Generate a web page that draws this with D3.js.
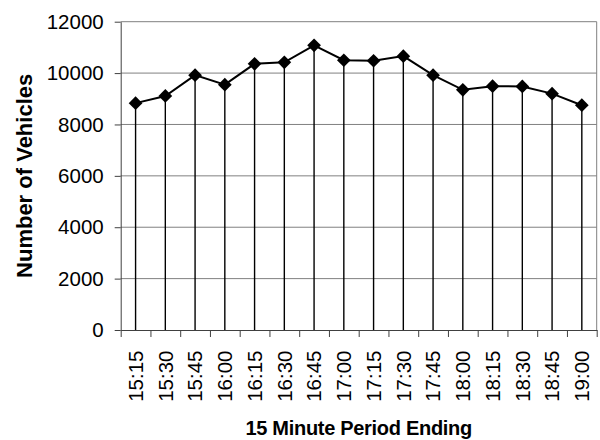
<!DOCTYPE html>
<html>
<head>
<meta charset="utf-8">
<script src="https://cdn.jsdelivr.net/npm/d3@7"></script>
<style>
  body { margin: 0; background: #fff; }
  svg { display: block; font-family: "Liberation Sans", Arial, sans-serif; }
</style>
</head>
<body>
<svg id="chart"></svg>
<script>
// 15 minute periods and counts
const periods = ['15:15', '15:30', '15:45', '16:00', '16:15', '16:30', '16:45', '17:00',
  '17:15', '17:30', '17:45', '18:00', '18:15', '18:30', '18:45', '19:00']
const vehicles = [8830, 9110, 9920, 9550, 10360, 10420, 11080, 10500,
  10480, 10660, 9920, 9350, 9490, 9480, 9200, 8750]
const yTicks = [0, 2000, 4000, 6000, 8000, 10000, 12000]

const WIDTH = 600
const HEIGHT = 440
const margin = {top: 21.7, right: 3.3, bottom: 110, left: 120.7}

const svg = d3.select('#chart')
  .attr('width', WIDTH)
  .attr('height', HEIGHT)

const x = d3.scaleBand()
  .domain(periods)
  .range([margin.left, WIDTH - margin.right])
  .padding(0)
const y = d3.scaleLinear()
  .domain([0, 12000])
  .range([HEIGHT - margin.bottom, margin.top])

// boundaries between periods, used for the x tick marks
const edges = d3.scaleLinear()
  .domain([0, periods.length])
  .range(x.range())

const data = periods.map((p, i) => ({period: p, count: vehicles[i]}))
const cx = d => x(d.period) + x.bandwidth() / 2

// gridlines
svg.append('g')
  .selectAll('line')
  .data(yTicks.filter(t => t > 0))
  .enter()
  .append('line')
  .attr('x1', x.range()[0])
  .attr('x2', x.range()[1])
  .attr('y1', d => y(d))
  .attr('y2', d => y(d))
  .attr('stroke', '#808080')
  .attr('stroke-width', 1)

// right frame
svg.append('line')
  .attr('x1', x.range()[1]).attr('x2', x.range()[1])
  .attr('y1', y(12000)).attr('y2', y(0))
  .attr('stroke', '#808080')

// drop lines
svg.append('g')
  .selectAll('line')
  .data(data)
  .enter()
  .append('line')
  .attr('x1', cx).attr('x2', cx)
  .attr('y1', d => y(d.count))
  .attr('y2', y(0))
  .attr('stroke', '#000')
  .attr('stroke-width', 1.4)

// y axis
const yAxis = svg.append('g')
  .attr('transform', `translate(${margin.left},0)`)
  .call(d3.axisLeft(y).tickValues(yTicks).tickFormat(d3.format('d'))
    .tickSize(6).tickSizeOuter(0).tickPadding(11))
yAxis.select('.domain').attr('stroke', '#404040')
yAxis.selectAll('.tick line').attr('stroke', '#404040')
yAxis.selectAll('text')
  .attr('font-size', 20.5)
  .attr('font-family', '"Liberation Sans", Arial, sans-serif')
  .attr('fill', '#000')

// x axis: tick marks at period boundaries
const xAxis = svg.append('g')
  .attr('transform', `translate(0,${y(0)})`)
  .call(d3.axisBottom(edges).ticks(periods.length).tickFormat('').tickSize(7).tickSizeOuter(0))
xAxis.select('.domain').attr('stroke', '#404040')
xAxis.selectAll('.tick line').attr('stroke', '#404040')

// x labels, rotated
svg.append('g')
  .selectAll('text')
  .data(periods)
  .enter()
  .append('text')
  .attr('transform', p => `translate(${x(p) + x.bandwidth() / 2},350.5) rotate(-90)`)
  .attr('text-anchor', 'end')
  .attr('dy', '0.35em')
  .attr('font-size', 20.5)
  .text(p => p)

// series line
svg.append('path')
  .datum(data)
  .attr('fill', 'none')
  .attr('stroke', '#000')
  .attr('stroke-width', 2)
  .attr('d', d3.line().x(cx).y(d => y(d.count)))

// diamond markers
svg.append('g')
  .selectAll('path')
  .data(data)
  .enter()
  .append('path')
  .attr('transform', d => `translate(${cx(d)},${y(d.count)})`)
  .attr('d', d3.symbol().type(d3.symbolDiamond2).size(120))
  .attr('fill', '#000')

// axis titles
svg.append('text')
  .attr('x', (x.range()[0] + x.range()[1]) / 2)
  .attr('y', 435)
  .attr('text-anchor', 'middle')
  .attr('font-size', 20)
  .attr('font-weight', 'bold')
  .attr('letter-spacing', -0.3)
  .text('15 Minute Period Ending')

svg.append('text')
  .attr('transform', `translate(31.7,${(y(0) + y(12000)) / 2}) rotate(-90)`)
  .attr('text-anchor', 'middle')
  .attr('font-size', 22)
  .attr('font-weight', 'bold')
  .text('Number of Vehicles')
</script>
</body>
</html>
